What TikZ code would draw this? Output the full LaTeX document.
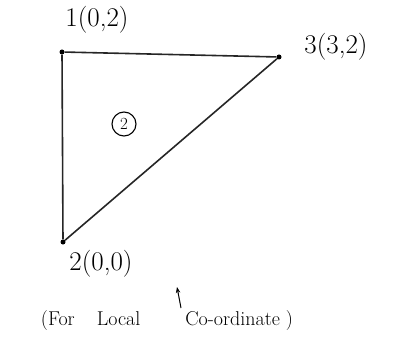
\documentclass[tikz,border=0pt]{standalone}
\usetikzlibrary{arrows.meta}
\begin{document}
\begin{tikzpicture}[x=1pt,y=-1pt,
  vtx/.style={circle,fill=black,inner sep=0pt,minimum size=5pt},
  lbl/.style={font=\fontsize{27}{30}\selectfont,inner sep=0pt},
  edge/.style={line width=1.6pt,black!85},
  note/.style={font=\fontsize{20}{23}\selectfont,inner sep=0pt}]
\useasboundingbox (0,0) rectangle (395,352);
\node[vtx] (n1) at (62,52) {};
\node[vtx] (n3) at (279,57) {};
\node[vtx] (n2) at (63,242) {};
\draw[edge] (n1) -- (n3) -- (n2) -- (n1);
\node[lbl] (l1) at (97,20) {1(0,2)};
\node[lbl] (l3) at (336,47) {3(3,2)};
\node[lbl] (l2) at (101,264) {2(0,0)};
\node[draw,circle,line width=1.1pt,inner sep=2pt,minimum size=24pt,font=\fontsize{17}{19}\selectfont] (e) at (124,124) {2};
\node[note] (t) at (167,321) {(For\hspace{22pt}Local\hspace{45pt}Co-ordinate\hspace{6pt})};
\coordinate (a0) at (181,308);
\coordinate (a1) at (177,287);
\draw[-{Stealth[length=6pt]},line width=1pt] (a0) -- (a1);
\end{tikzpicture}
\end{document}
